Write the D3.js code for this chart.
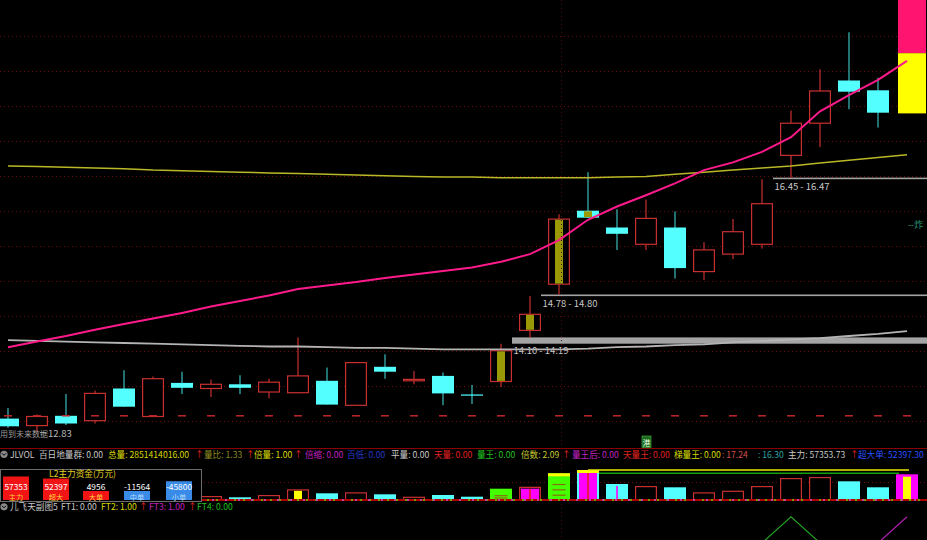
<!DOCTYPE html>
<html><head><meta charset="utf-8">
<script src="https://cdn.jsdelivr.net/npm/d3@7"></script>
<style>
html,body{margin:0;padding:0;background:#000;overflow:hidden}
svg{display:block}
text{font-family:"Noto Sans CJK SC","Liberation Sans",sans-serif;}
</style></head>
<body><svg id="c" width="927" height="540"></svg>
<script>
// ---------------- data ----------------
const open  = [13.03,12.93,13.07,13.00,13.46,13.06,13.54,13.46,13.52,13.41,13.40,13.57,13.22,13.77,13.57,13.64,13.375,13.56,14.29,14.95,16.00,15.76,15.52,15.76,15.13,15.38,15.52,16.79,17.25,17.86,17.72];
const high  = [13.18,13.09,13.38,13.43,13.72,13.63,13.70,13.59,13.65,13.60,14.19,13.76,13.83,13.95,13.71,13.69,13.51,14.10,14.78,15.95,16.55,16.02,16.16,15.99,15.55,15.88,16.45,17.43,18.02,18.55,17.90];
const low   = [12.90,12.83,12.94,12.96,13.20,13.06,13.38,13.34,13.38,13.32,13.40,13.23,13.22,13.60,13.52,13.22,13.24,13.48,14.19,14.80,15.90,15.44,15.44,15.03,15.01,15.31,15.46,16.47,16.91,17.45,17.19];
const close = [12.92,13.06,12.96,13.39,13.20,13.60,13.47,13.52,13.47,13.55,13.64,13.23,13.83,13.70,13.59,13.39,13.365,14.00,14.52,15.88,15.90,15.67,15.89,15.18,15.44,15.70,16.10,17.25,17.71,17.70,17.40];
const signalMark = [0,0,0,0,0,0,0,0,0,0,0,0,0,0,0,0,0,1,1,1,1,0,0,0,0,0,0,0,0,0,0];

const maPink   = [14.05,14.13,14.21,14.30,14.38,14.46,14.54,14.63,14.71,14.79,14.88,14.93,14.98,15.04,15.09,15.14,15.19,15.27,15.38,15.58,15.87,16.06,16.22,16.39,16.58,16.69,16.84,17.05,17.42,17.65,17.87,18.14];
const maYellow = [16.64,16.63,16.62,16.61,16.60,16.58,16.57,16.56,16.55,16.54,16.53,16.52,16.51,16.50,16.49,16.48,16.48,16.47,16.47,16.47,16.47,16.48,16.49,16.52,16.55,16.58,16.61,16.64,16.68,16.72,16.76,16.80];
const maGray   = [14.15,14.14,14.13,14.12,14.11,14.10,14.09,14.08,14.07,14.06,14.06,14.05,14.04,14.04,14.03,14.02,14.02,14.02,14.02,14.02,14.03,14.05,14.06,14.08,14.09,14.12,14.14,14.16,14.18,14.21,14.24,14.28];

const gapStart = [17,18,26];
const gapLow   = [14.10,14.78,16.45];
const gapHigh  = [14.19,14.80,16.47];
const gridLevels = [13.0,13.5,14.0,14.5,15.0,15.5,16.0,16.5,17.0,17.5,18.0,18.5];
const baseLevel = 13.07;
const lowLabel = 12.83;
const gaugeLevels = [17.39,18.25,19.01];

const volume  = [70,60,50,80,90,100,60,40,27,50,107,67,77,57,33,50,33,113,133,267,300,160,140,127,77,93,140,220,230,187,127,257];
const volKind = ["d","u","d","u","d","u","d","u","d","u","y","d","u","d","u","d","d","g","m","G","c","dm","u","d","u","u","u","u","u","d","d","p"];
const volGrid = 180;

const l2Title = "L2主力资金(万元)";
const l2Labels = ["主力","超大","大单","中单","小单"];
const l2Values = [57353,52397,4956,-11564,-45800];

const ft3 = [0,0,0,0,0,0,0,0,0,0,0,0,0,0,0,0,0,0,0,0,0,0,0,0,0,0,0,0,0,0,0,1];
const ft4 = [0,0,0,0,0,0,0,0,0,0,0,0,0,0,0,0,0,0,0,0,0,0,0,0,0,0,0,1,0,0,0,0];

const header1 = [["JLVOL","#c8c8c8"],["百日地量群: 0.00","#c8c8c8"],["总量: 2851414016.00","#dada00"],["↑","#e02020"],["量比: 1.33","#8c8c20"],["↑","#e02020"],["倍量: 1.00","#dada00"],["↑","#e02020"],["倍缩: 0.00","#c020c0"],["百低: 0.00","#2838c8"],["平量: 0.00","#c8c8c8"],["天量: 0.00","#e02020"],["量王: 0.00","#20c020"],["倍数: 2.09","#c8c830"],["↑","#e02020"],["量王后: 0.00","#c020c0"],["天量王: 0.00","#e02020"],["梯量王: 0.00","#dada00"],[": 17.24","#d05050"],[": 16.30","#30a0a0"],["主力: 57353.73","#c8c8c8"],["↑","#e02020"],["超大单: 52397.30","#2850ff"]];
const header2 = [["儿飞天副图5","#c8c8c8"],["FT1: 0.00","#c8c8c8"],["FT2: 1.00","#dada00"],["↑","#e02020"],["FT3: 1.00","#c020c0"],["↑","#e02020"],["FT4: 0.00","#20c020"]];

// ---------------- layout ----------------
const W = 927, H = 540;
const header1X = [10,39,108,195,204,246,254,294,305,347,391,434,477,521,562,572,623,674,722,758,788,850,858];
const header2X = [10,61,101,139,149,188,197];
const l2X = [3,43,83,124,166];

const svg = d3.select("#c");
svg.append("rect").attr("width",W).attr("height",H).attr("fill","#000");
const defs = svg.append("defs");
defs.append("clipPath").attr("id","pc").append("rect").attr("x",0).attr("y",0).attr("width",W).attr("height",448);

const x  = d3.scaleLinear().domain([0,31]).range([8,907]);
const y  = d3.scaleLinear().domain([12.61,19.01]).range([448,0]);
const yv = d3.scaleLinear().domain([0,400]).range([500,460]);
const yf = d3.scaleLinear().domain([0,1]).range([543,516.7]);
const HW = 11;

const UP="#c83030", DN="#54ffff", DNW="#3cbcbc";
const GRID="#6a0c0c";

// ---------- price panel ----------
const pg = svg.append("g").attr("clip-path","url(#pc)");
pg.selectAll("line.grid").data(gridLevels).join("line")
  .attr("x1",0).attr("x2",W).attr("y1",d=>Math.round(y(d))+0.5).attr("y2",d=>Math.round(y(d))+0.5)
  .attr("stroke",GRID).attr("stroke-dasharray","1,3").attr("stroke-width",1);

svg.append("line").attr("x1",x(19)+2.5).attr("x2",x(19)+2.5).attr("y1",0).attr("y2",H)
  .attr("stroke","#4a0a0a").attr("stroke-dasharray","1,3");

gapStart.forEach((s,k)=>{
  const y1=y(gapHigh[k]), y2=y(gapLow[k]);
  const h=Math.max(1.6,y2-y1);
  pg.append("rect").attr("x",x(s)+HW).attr("y",y2-h).attr("width",W-x(s)-HW).attr("height",h).attr("fill","#a4a4a4");
  pg.append("text").attr("x",x(s)+HW+1.5).attr("y",y2+10.5).attr("fill","#c8c8c8").attr("font-size",9.5)
    .text(gapLow[k].toFixed(2)+" - "+gapHigh[k].toFixed(2));
});

open.forEach((o,i)=>{
  const c=close[i], up=c>=o, cx=x(i);
  const top=y(Math.max(o,c)), bot=y(Math.min(o,c));
  const bh=Math.max(1.2,bot-top);
  if(up){
    pg.append("line").attr("x1",cx).attr("x2",cx).attr("y1",y(high[i])).attr("y2",top).attr("stroke",UP).attr("stroke-width",1.2);
    pg.append("line").attr("x1",cx).attr("x2",cx).attr("y1",top+bh).attr("y2",y(low[i])).attr("stroke",UP).attr("stroke-width",1.2);
    pg.append("rect").attr("x",cx-HW+0.6).attr("y",top).attr("width",2*HW-1.2).attr("height",bh)
      .attr("fill","#000").attr("stroke",UP).attr("stroke-width",1.2);
  } else {
    pg.append("line").attr("x1",cx).attr("x2",cx).attr("y1",y(high[i])).attr("y2",y(low[i])).attr("stroke",DNW).attr("stroke-width",1.2);
    pg.append("rect").attr("x",cx-HW).attr("y",top).attr("width",2*HW).attr("height",bh).attr("fill",DN);
  }
  if(signalMark[i]){
    pg.append("rect").attr("x",cx-4).attr("y",top+0.6).attr("width",8).attr("height",Math.max(1,bh-1.2)).attr("fill","#9a9a06");
  }
});

pg.selectAll("line.dash").data(maPink).join("line")
  .attr("x1",(d,i)=>x(i)-4).attr("x2",(d,i)=>x(i)+4)
  .attr("y1",y(baseLevel)).attr("y2",y(baseLevel)).attr("stroke","#c02828").attr("stroke-width",1.5);

pg.append("rect").attr("x",x(31)-9).attr("y",y(gaugeLevels[2])).attr("width",28).attr("height",y(gaugeLevels[1])-y(gaugeLevels[2])).attr("fill","#ff1470");
pg.append("rect").attr("x",x(31)-9).attr("y",y(gaugeLevels[1])).attr("width",28).attr("height",y(gaugeLevels[0])-y(gaugeLevels[1])).attr("fill","#ffff00");

const line = d3.line().x((d,i)=>x(i)).y(d=>y(d));
pg.append("path").datum(maGray).attr("d",line).attr("fill","none").attr("stroke","#b4b4b4").attr("stroke-width",1.8);
pg.append("path").datum(maYellow).attr("d",line).attr("fill","none").attr("stroke","#b8b828").attr("stroke-width",1.5);
pg.append("path").datum(maPink).attr("d",line).attr("fill","none").attr("stroke","#ff1a8c").attr("stroke-width",2);

pg.append("line").attr("x1",x(1)+3).attr("x2",x(1)+9).attr("y1",y(lowLabel)).attr("y2",y(lowLabel)).attr("stroke","#b0b0b0");
pg.append("text").attr("x",0).attr("y",y(lowLabel)+4.5).attr("fill","#9a9a9a").attr("font-size",8).text("用到未来数据");
pg.append("text").attr("x",x(1)+11).attr("y",y(lowLabel)+4.5).attr("fill","#b8b8b8").attr("font-size",9.5).text(lowLabel.toFixed(2));
pg.append("text").attr("x",908).attr("y",228).attr("fill","#2a9a7a").attr("font-size",9).text("--炸");

svg.append("line").attr("x1",0).attr("x2",W).attr("y1",448.5).attr("y2",448.5).attr("stroke","#8a0000").attr("stroke-width",1);

// ---------- volume panel ----------
const vg = svg.append("g");
vg.append("line").attr("x1",0).attr("x2",W).attr("y1",Math.round(yv(volGrid))+0.5).attr("y2",Math.round(yv(volGrid))+0.5)
  .attr("stroke",GRID).attr("stroke-dasharray","1,3");
volume.forEach((v,i)=>{
  const k=volKind[i], cx=x(i), t=yv(v), h=500-t;
  const r=(fill,stroke,sw)=>vg.append("rect").attr("x",cx-HW+(stroke?sw/2:0)).attr("y",t+(stroke?sw/2:0))
      .attr("width",2*HW-(stroke?sw:0)).attr("height",h-(stroke?sw/2:0)).attr("fill",fill).attr("stroke",stroke||"none").attr("stroke-width",sw||0);
  if(k==="u") r("#000",UP,1.2);
  else if(k==="d") r(DN);
  else if(k==="dm"){ r(DN); vg.append("rect").attr("x",cx-0.8).attr("y",t+2).attr("width",1.6).attr("height",h-2).attr("fill","#ff00ff"); }
  else if(k==="y"){ r("#000",UP,1.2); vg.append("rect").attr("x",cx-4).attr("y",t+1.5).attr("width",8).attr("height",h-1.5).attr("fill","#ffff00"); }
  else if(k==="g"||k==="G"){
    r("#44ff00");
    if(k==="G"){ vg.append("rect").attr("x",cx-HW).attr("y",t).attr("width",2*HW).attr("height",3).attr("fill","#ffff00"); }
    [0.42,0.62,0.82].forEach((f,j)=>{ if(k==="g"&&j===0) return;
      vg.append("line").attr("x1",cx-6.5).attr("x2",cx+6.5).attr("y1",t+h*f).attr("y2",t+h*f).attr("stroke","#8a6a10").attr("stroke-width",1.2); });
  }
  else if(k==="m"){ r("#000",UP,1.4); vg.append("rect").attr("x",cx-9).attr("y",t+2).attr("width",18).attr("height",h-2).attr("fill","#ff00ff");
    vg.append("rect").attr("x",cx-0.8).attr("y",t+2).attr("width",1.6).attr("height",h-2).attr("fill","#e02020"); }
  else if(k==="c"){ r("#ff00ff",DN,2); vg.append("rect").attr("x",cx-HW).attr("y",t).attr("width",2*HW).attr("height",3).attr("fill","#ffff00");
    vg.append("rect").attr("x",cx-0.8).attr("y",t+3).attr("width",1.6).attr("height",h-3).attr("fill","#e02020"); }
  else if(k==="p"){ r("#ff00ff"); vg.append("rect").attr("x",cx-4).attr("y",t+2.4).attr("width",8).attr("height",h-2.4).attr("fill","#ffff00"); }
});
vg.append("line").attr("x1",x(20)).attr("x2",x(31)+2).attr("y1",yv(volume[20])).attr("y2",yv(volume[20])).attr("stroke","#e8e800").attr("stroke-width",1.6);
vg.append("line").attr("x1",x(20)+HW).attr("x2",x(31)-8).attr("y1",yv(volume[19])).attr("y2",yv(volume[19])).attr("stroke","#10a010").attr("stroke-width",1.6);
vg.append("line").attr("x1",0).attr("x2",W).attr("y1",500).attr("y2",500).attr("stroke","#b00000").attr("stroke-width",2);
vg.append("line").attr("x1",0).attr("x2",W).attr("y1",500).attr("y2",500).attr("stroke","#7a9a00").attr("stroke-width",2).attr("stroke-dasharray","2,7");
vg.append("line").attr("x1",4).attr("x2",W).attr("y1",500).attr("y2",500).attr("stroke","#c040a0").attr("stroke-width",2).attr("stroke-dasharray","2,11");

// L2 box
const bg = svg.append("g");
bg.append("rect").attr("x",0.5).attr("y",469.5).attr("width",201).attr("height",32).attr("fill","#000").attr("stroke","#6c6c6c");
bg.append("text").attr("x",82.5).attr("y",477).attr("text-anchor","middle").attr("fill","#e0d020").attr("font-size",8.6).text(l2Title);
const l2h = d3.scaleLinear().domain([0,d3.max(l2Values,v=>Math.abs(v))]).range([0,23.5]);
l2Values.forEach((v,i)=>{
  const h=Math.max(9,l2h(Math.abs(v))), bx=l2X[i], pos=v>0;
  bg.append("rect").attr("x",bx).attr("y",500-h).attr("width",26).attr("height",h).attr("fill",pos?"#f01414":"#3a8ae8");
  bg.append("text").attr("x",bx+13).attr("y",490.2).attr("text-anchor","middle").attr("fill","#ffffff").attr("font-size",8.4).text(v);
  bg.append("text").attr("x",bx+13).attr("y",499.6).attr("text-anchor","middle").attr("fill",pos?"#ffd040":"#b0dcff").attr("font-size",7.2).text(l2Labels[i]);
});

function header(items,xs,yb){
  const g=svg.append("g");
  g.append("circle").attr("cx",4).attr("cy",yb-3.2).attr("r",3.6).attr("fill","#8a8a8a");
  g.append("path").attr("d",`M2,${yb-4.2} L4,${yb-2.2} L6,${yb-4.2}`).attr("fill","none").attr("stroke","#000").attr("stroke-width",1);
  items.forEach((it,i)=>g.append("text").attr("x",xs[i]).attr("y",yb).attr("fill",it[1]).attr("font-size",8.6).text(it[0]));
}
header(header1,header1X,457.5);
header(header2,header2X,510);

svg.append("rect").attr("x",642).attr("y",436).attr("width",9).attr("height",11.5).attr("fill","#1c6a1c").attr("stroke","#3a9a3a").attr("stroke-width",0.8);
svg.append("text").attr("x",646.5).attr("y",445.5).attr("text-anchor","middle").attr("fill","#e8ffe8").attr("font-size",7.5).text("港");

// ---------- lower panel ----------
const fl = d3.line().x((d,i)=>x(i)).y(d=>yf(d));
svg.append("path").datum(ft4).attr("d",fl).attr("fill","none").attr("stroke","#20a020").attr("stroke-width",1.2);
svg.append("path").datum(ft3).attr("d",fl).attr("fill","none").attr("stroke","#b020b0").attr("stroke-width",1.2);
</script></body></html>
